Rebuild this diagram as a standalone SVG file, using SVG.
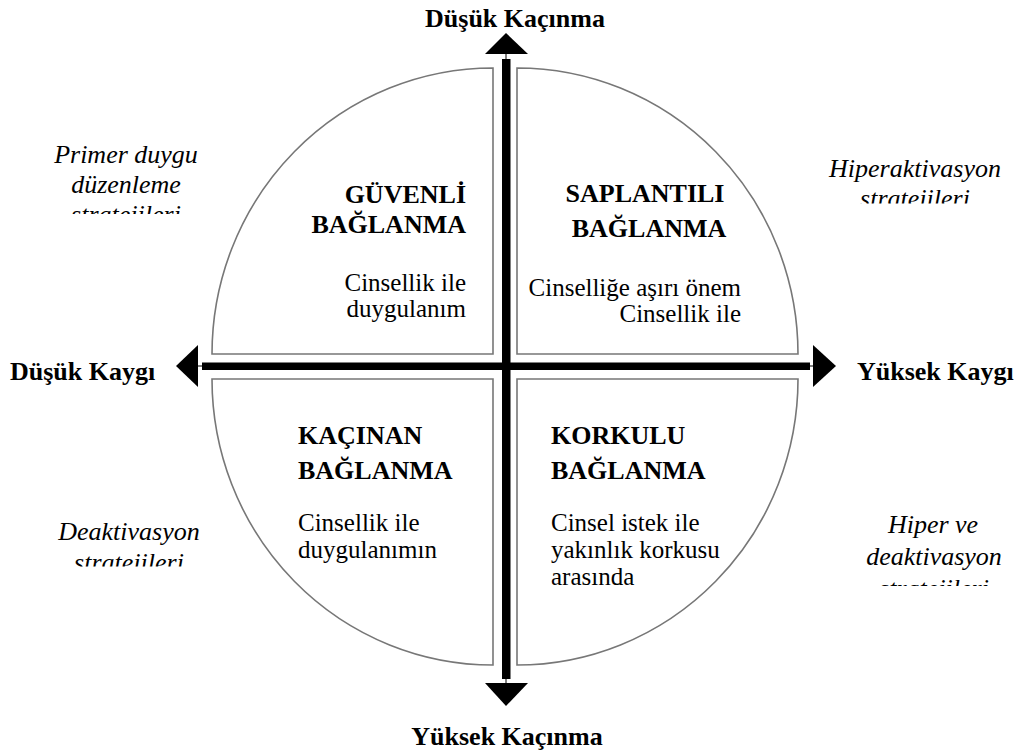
<svg xmlns="http://www.w3.org/2000/svg" width="1024" height="755" viewBox="0 0 1024 755">
<style>
.q{fill:#fff;stroke:#777;stroke-width:1.6}
.ax{font-family:"Liberation Serif","Times New Roman",serif;font-weight:bold;font-size:26px;fill:#000}
.tt{font-family:"Liberation Serif","Times New Roman",serif;font-weight:bold;font-size:26px;fill:#000}
.bd{font-family:"Liberation Serif","Times New Roman",serif;font-size:25px;fill:#000}
.it{font-family:"Liberation Serif","Times New Roman",serif;font-style:italic;font-size:26px;fill:#000;text-anchor:middle}
.bar{fill:#000}
.thin{stroke:#000;stroke-width:1}
</style>
<defs>
<clipPath id="c1"><rect x="0" y="130" width="260" height="84"/></clipPath>
<clipPath id="c2"><rect x="800" y="140" width="224" height="63.5"/></clipPath>
<clipPath id="c3"><rect x="0" y="500" width="260" height="66.5"/></clipPath>
<clipPath id="c4"><rect x="800" y="500" width="224" height="86"/></clipPath>
</defs>
<rect width="1024" height="755" fill="#fff"/>

<g id="q-secure">
<path class="q" d="M493,354 H212 A281,286 0 0 1 493,68 Z"/>
<text class="tt" text-anchor="end" x="466" y="203">GÜVENLİ</text>
<text class="tt" text-anchor="end" x="466" y="233">BAĞLANMA</text>
<text class="bd" text-anchor="end" x="466" y="291">Cinsellik ile</text>
<text class="bd" text-anchor="end" x="466" y="317">duygulanım</text>
</g>

<g id="q-preoccupied">
<path class="q" d="M517,354 V68 A281,286 0 0 1 798,354 Z"/>
<text class="tt" text-anchor="middle" x="645" y="202">SAPLANTILI</text>
<text class="tt" text-anchor="middle" x="649" y="237">BAĞLANMA</text>
<text class="bd" text-anchor="end" x="741" y="296">Cinselliğe aşırı önem</text>
<text class="bd" text-anchor="end" x="741" y="322">Cinsellik ile</text>
</g>

<g id="q-avoidant">
<path class="q" d="M493,379 V665 A281,286 0 0 1 212,379 Z"/>
<text class="tt" x="298" y="444">KAÇINAN</text>
<text class="tt" x="298" y="479">BAĞLANMA</text>
<text class="bd" x="298" y="531">Cinsellik ile</text>
<text class="bd" x="298" y="558">duygulanımın</text>
</g>

<g id="q-fearful">
<path class="q" d="M517,379 H798 A281,286 0 0 1 517,665 Z"/>
<text class="tt" x="551" y="444">KORKULU</text>
<text class="tt" x="551" y="479">BAĞLANMA</text>
<text class="bd" x="551" y="531">Cinsel istek ile</text>
<text class="bd" x="551" y="558">yakınlık korkusu</text>
<text class="bd" x="551" y="585">arasında</text>
</g>

<g id="connectors">
<rect class="bar" x="502" y="59" width="8.5" height="620"/>
<rect class="bar" x="202" y="362.5" width="608" height="7.5"/>
<line class="thin" x1="506" y1="53" x2="506" y2="60"/>
<line class="thin" x1="506" y1="678" x2="506" y2="684"/>
<line class="thin" x1="197" y1="366" x2="203" y2="366"/>
<line class="thin" x1="809" y1="366" x2="814" y2="366"/>
<polygon class="bar" points="506,33 528,54 485,54"/>
<polygon class="bar" points="485,683 528,683 506,706"/>
<polygon class="bar" points="176,366 198,345 198,387"/>
<polygon class="bar" points="836,366 813,345 813,387"/>
</g>

<g id="axis-labels">
<text class="ax" text-anchor="middle" x="515" y="27">Düşük Kaçınma</text>
<text class="ax" text-anchor="middle" x="507" y="745">Yüksek Kaçınma</text>
<text class="ax" x="10" y="380">Düşük Kaygı</text>
<text class="ax" x="857" y="380">Yüksek Kaygı</text>
</g>

<g id="side-labels">
<g clip-path="url(#c1)">
<text class="it" x="126" y="163">Primer duygu</text>
<text class="it" x="126" y="193">düzenleme</text>
<text class="it" x="126" y="223">stratejileri</text>
</g>
<g clip-path="url(#c2)">
<text class="it" x="915" y="177">Hiperaktivasyon</text>
<text class="it" x="915" y="207">stratejileri</text>
</g>
<g clip-path="url(#c3)">
<text class="it" x="129" y="540">Deaktivasyon</text>
<text class="it" x="129" y="571">stratejileri</text>
</g>
<g clip-path="url(#c4)">
<text class="it" x="933" y="533">Hiper ve</text>
<text class="it" x="934" y="565">deaktivasyon</text>
<text class="it" x="934" y="597">stratejileri</text>
</g>
</g>
</svg>
